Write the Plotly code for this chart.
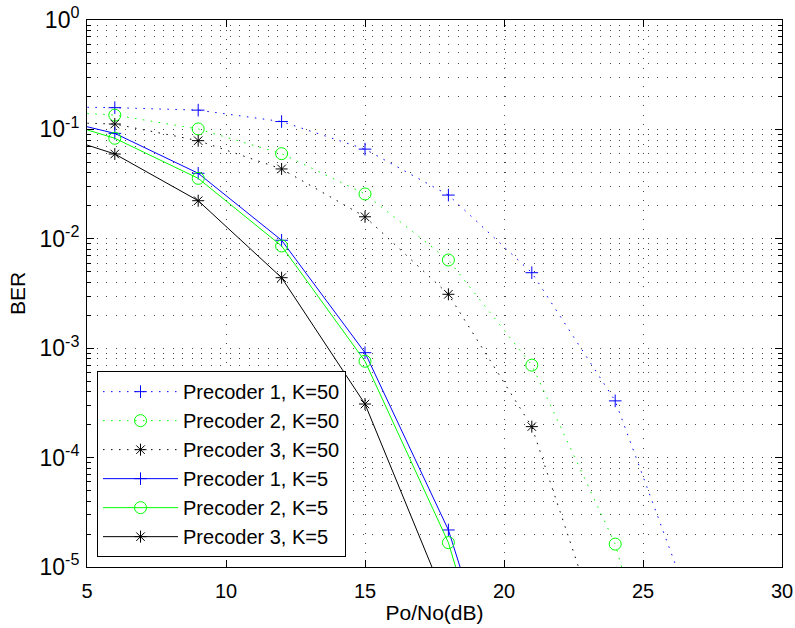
import plotly.graph_objects as go

# ---- data ----
snr_db = [3, 6, 9, 12, 15, 18, 21, 24, 27]

ber_p1_k50 = [0.162, 0.158, 0.150, 0.118, 0.066, 0.0251, 0.0049, 3.3e-4, 2.8e-6]
ber_p2_k50 = [0.150, 0.135, 0.101, 0.060, 0.0257, 0.0064, 7.0e-4, 1.62e-5, 3e-8]
ber_p3_k50 = [0.118, 0.112, 0.0789, 0.0435, 0.0159, 0.00311, 1.92e-4, 9e-7, 5e-9]
ber_p1_k5 = [0.140, 0.092, 0.0397, 0.0097, 9.1e-4, 2.18e-5, 8.3e-8, None, None]
ber_p2_k5 = [0.141, 0.083, 0.0357, 0.0086, 7.6e-4, 1.67e-5, 4.5e-8, None, None]
ber_p3_k5 = [0.105, 0.0596, 0.0223, 0.00441, 3.09e-4, 4.3e-6, 3e-9, None, None]

series_names = ["Precoder 1, K=50", "Precoder 2, K=50", "Precoder 3, K=50",
                "Precoder 1, K=5", "Precoder 2, K=5", "Precoder 3, K=5"]

x_tickvals = [5, 10, 15, 20, 25, 30]
y_tickvals = [1e-5, 1e-4, 1e-3, 1e-2, 1e-1, 1e0]
y_ticktext = ["10<sup>-5</sup>", "10<sup>-4</sup>", "10<sup>-3</sup>",
              "10<sup>-2</sup>", "10<sup>-1</sup>", "10<sup>0</sup>"]

# ---- styles ----
BLUE, GREEN, BLACK = "#0000FF", "#00FF00", "#000000"
DOTTED = "1.5px,6.5px"
styles = [
    (BLUE, DOTTED, "cross-thin", 9),
    (GREEN, DOTTED, "circle-open", 12),
    (BLACK, DOTTED, "asterisk", 10),
    (BLUE, "solid", "cross-thin", 9),
    (GREEN, "solid", "circle-open", 12),
    (BLACK, "solid", "asterisk", 10),
]
all_series = [ber_p1_k50, ber_p2_k50, ber_p3_k50, ber_p1_k5, ber_p2_k5, ber_p3_k5]

fig = go.Figure()
for name, ys, (col, dash, sym, sz) in zip(series_names, all_series, styles):
    fig.add_trace(go.Scatter(
        x=snr_db, y=ys, name=name, mode="lines+markers",
        line=dict(color=col, width=1, dash=dash),
        marker=dict(symbol=sym, size=sz, color=col,
                    line=dict(color=col, width=1)),
        connectgaps=False,
    ))

minor_y = [m * 10.0 ** k for k in range(-5, 0) for m in range(2, 10)]

FONT = "Liberation Sans, Arial, Helvetica, sans-serif"
GRID = "rgb(70,70,70)"
GRIDDASH = "1px,8.5px"

fig.update_layout(
    width=795, height=628,
    margin=dict(l=87, r=13, t=20, b=61),
    paper_bgcolor="white", plot_bgcolor="white",
    font=dict(family=FONT, size=20, color="black"),
    showlegend=True,
    legend=dict(
        x=0.0144, y=0.018, xanchor="left", yanchor="bottom",
        bgcolor="white", bordercolor="black", borderwidth=1,
        font=dict(family=FONT, size=20, color="black"),
        itemwidth=75, tracegroupgap=0,
    ),
    xaxis=dict(
        range=[5, 30], tickmode="array", tickvals=x_tickvals,
        ticks="inside", ticklen=7, tickcolor="black",
        showline=True, linecolor="black", linewidth=1, mirror="ticks",
        showgrid=True, gridcolor=GRID, gridwidth=1, griddash=GRIDDASH,
        zeroline=False, ticklabelstandoff=6, automargin=False,
        tickfont=dict(family=FONT, size=20),
        title=dict(text="Po/No(dB)", font=dict(family=FONT, size=21), standoff=4),
    ),
    yaxis=dict(
        type="log", range=[-5, 0], tickmode="array",
        tickvals=y_tickvals, ticktext=y_ticktext,
        ticks="inside", ticklen=7, tickcolor="black",
        showline=True, linecolor="black", linewidth=1, mirror="ticks",
        showgrid=True, gridcolor=GRID, gridwidth=1, griddash=GRIDDASH,
        zeroline=False, ticklabelstandoff=2, automargin=False,
        tickfont=dict(family=FONT, size=23),
        minor=dict(tickmode="array", tickvals=minor_y, ticks="inside",
                   ticklen=4, tickcolor="black", showgrid=True,
                   gridcolor=GRID, gridwidth=1, griddash=GRIDDASH),
        title=dict(text="BER", font=dict(family=FONT, size=21), standoff=8),
    ),
)

fig.write_html("out.html")
